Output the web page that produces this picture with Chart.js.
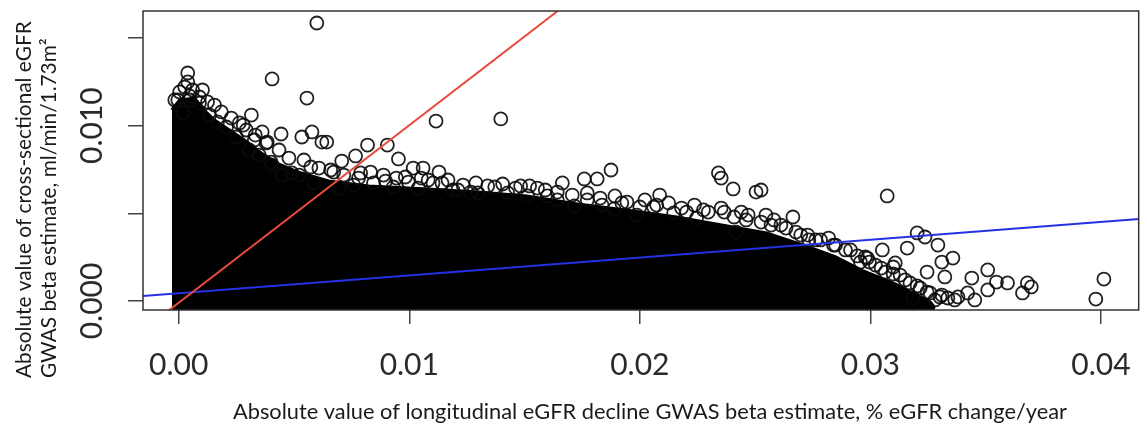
<!DOCTYPE html>
<html>
<head>
<meta charset="utf-8">
<script src="https://cdn.jsdelivr.net/npm/chart.js@4"></script>
<style>
  html, body { margin: 0; padding: 0; background: #fff; }
  #chart { display: block; }
</style>
</head>
<body>
<canvas id="chart" width="1147" height="430"></canvas>
<script>
// axis ranges and ticks
const xRange = [-0.00155, 0.04164];
const yRange = [-0.000513, 0.016534];
const xTickValues = [0, 0.01, 0.02, 0.03, 0.04];
const xTickLabels = ['0.00', '0.01', '0.02', '0.03', '0.04'];
const yTickValues = [0, 0.005, 0.010, 0.015];
const yTickLabels = ['0.000', '', '0.010', ''];

const xTitle = 'Absolute value of longitudinal eGFR decline GWAS beta estimate, % eGFR change/year';
const yTitle = ['Absolute value of cross-sectional eGFR', 'GWAS beta estimate, ml/min/1.73m\u00B2'];

// upper edge of the dense (saturated) cloud of points
const coreX = [-0.0003, 0.00004, 0.00069, 0.0011, 0.00155, 0.0022, 0.00285, 0.00358, 0.00435, 0.0052,
  0.0065, 0.00823, 0.0108, 0.0130, 0.0151, 0.0173, 0.0194, 0.0216, 0.0238, 0.0255,
  0.0272, 0.0285, 0.0297, 0.0311, 0.0319, 0.0326, 0.0328];
const coreY = [0.01089, 0.01146, 0.01157, 0.01089, 0.01032, 0.00975, 0.00918, 0.00844, 0.00781, 0.00735,
  0.00684, 0.00656, 0.00639, 0.00621, 0.00599, 0.00553, 0.00519, 0.00479, 0.00428, 0.00388,
  0.00314, 0.00251, 0.00171, 0.00097, 0.0004, -0.00006, -0.0004];

// individually visible circles (outliers and edge of the cloud)
const ringPoints = [
  [0.00599, 0.01585], [0.00039, 0.0130], [0.00039, 0.01249], [0.00405, 0.01266], [0.00556, 0.01157],
  [0.00004, 0.01192], [0.00103, 0.01203], [0.00026, 0.0122], [0.0006, 0.01203], [0.0009, 0.01129],
  [0.00125, 0.01135], [0.00017, 0.01072], [0.00134, 0.0106], [0.00168, 0.01021], [0.00207, 0.00992],
  [0.00263, 0.01015], [0.00315, 0.0106], [0.00293, 0.00975], [0.0025, 0.00935], [0.00328, 0.00918],
  [0.00306, 0.00861], [0.00349, 0.00832], [0.004, 0.00792], [0.00362, 0.00964], [0.00444, 0.00952],
  [0.00534, 0.00935], [0.00578, 0.00964], [0.00621, 0.00906], [0.00642, 0.00906], [0.00379, 0.00901],
  [0.00573, 0.00764], [0.00491, 0.0073], [0.00405, 0.00775], [0.00448, 0.00718], [0.00522, 0.00718],
  [0.00586, 0.00673], [-0.00004, 0.01146], [0.00047, 0.01169],
  [0.00819, 0.00889], [0.00905, 0.00889], [0.00767, 0.00827], [0.00707, 0.00798], [0.00659, 0.00747],
  [0.00953, 0.0081], [0.00789, 0.0073], [0.00897, 0.00684], [0.01017, 0.00758], [0.0106, 0.00758],
  [0.01129, 0.00735], [0.00983, 0.00707], [0.01082, 0.0069], [0.01142, 0.00673], [0.01211, 0.00633],
  [0.01267, 0.00621], [0.01371, 0.0065], [0.01116, 0.01026], [0.01397, 0.01038], [0.01483, 0.00656],
  [0.01556, 0.00644], [0.01664, 0.00673], [0.01759, 0.00696], [0.01815, 0.00696], [0.01875, 0.00747],
  [0.02086, 0.00604], [0.02, 0.00536], [0.01888, 0.00525], [0.01716, 0.00542], [0.02341, 0.0073],
  [0.02353, 0.00701], [0.02405, 0.00639], [0.02504, 0.00621], [0.02526, 0.00633], [0.0206, 0.00536],
  [0.02147, 0.00502], [0.02276, 0.00519], [0.02366, 0.00507], [0.02664, 0.00479], [0.02569, 0.00433],
  [0.02418, 0.00393], [0.03073, 0.00599], [0.02733, 0.00348], [0.02819, 0.00359], [0.03052, 0.00291],
  [0.02978, 0.00251], [0.03108, 0.00217], [0.03203, 0.00388], [0.03237, 0.00365], [0.03293, 0.00319],
  [0.0316, 0.00302], [0.03358, 0.00245], [0.0331, 0.00222], [0.03509, 0.00177], [0.0344, 0.00131],
  [0.03246, 0.00165], [0.03323, 0.00137], [0.03547, 0.00108], [0.03595, 0.00103], [0.03681, 0.00103],
  [0.03698, 0.0008], [0.03509, 0.00063], [0.0366, 0.00046], [0.04013, 0.00125], [0.03978, 0.00011],
  [0.03099, 0.00194], [0.02987, 0.00245], [0.0331, 0.00034], [0.03422, 0.00046], [0.03336, 0.00017],
  [0.03185, 0.00017], [0.0338, 0.00023],
  [0.00694, 0.00644], [0.00759, 0.00661], [0.00845, 0.00673], [0.00931, 0.0065], [0.01039, 0.00644],
  [0.0119, 0.00633], [0.01297, 0.00616], [0.01427, 0.00616], [0.01513, 0.00599], [0.01599, 0.00599],
  [0.01642, 0.00576], [0.01772, 0.00576], [0.01836, 0.00547], [0.01922, 0.00559], [0.01987, 0.0049],
  [0.02203, 0.00507], [0.02246, 0.00473], [0.0244, 0.00507], [0.02461, 0.00462], [0.02547, 0.0049],
  [0.02612, 0.00433], [0.02698, 0.00376], [0.02763, 0.00348], [0.02849, 0.00319], [0.02914, 0.00291],
  [0.02957, 0.00222], [0.03022, 0.00205], [0.03065, 0.00165], [0.03129, 0.00148], [0.03172, 0.00103],
  [0.03216, 0.00074], [0.03259, 0.00046], [0.0328, 0.00006], [0.03366, 0.00006], [0.03453, 0.00006],
  // dense band just above the saturated cloud
  [-0.00017, 0.01146], [0.00047, 0.01146], [0.0009, 0.01163], [0.00155, 0.01117], [0.00185, 0.01078],
  [0.00228, 0.01043], [0.0028, 0.01003], [0.00332, 0.00946], [0.00384, 0.00906], [0.00435, 0.00861],
  [0.00478, 0.00815], [0.00543, 0.00804], [0.00608, 0.00758], [0.00672, 0.00735], [0.00716, 0.00718],
  [0.0078, 0.00701], [0.00832, 0.00735], [0.00888, 0.00718], [0.00944, 0.00701], [0.00996, 0.00678],
  [0.01052, 0.00701], [0.01103, 0.00673], [0.01168, 0.0069], [0.01233, 0.00661], [0.01289, 0.00673],
  [0.0134, 0.00656], [0.01405, 0.00667], [0.01461, 0.00644], [0.01522, 0.00656], [0.0159, 0.00633],
  [0.01642, 0.00621], [0.01707, 0.00604], [0.01772, 0.00616], [0.01828, 0.00587], [0.01892, 0.00599],
  [0.01944, 0.00564], [0.02022, 0.00576], [0.02073, 0.00547], [0.02125, 0.00559], [0.02181, 0.0053],
  [0.02237, 0.00547], [0.02297, 0.00507], [0.02353, 0.0053], [0.02409, 0.00479], [0.0247, 0.0049],
  [0.02526, 0.0045], [0.02582, 0.00462], [0.02634, 0.00416], [0.02677, 0.00393], [0.02728, 0.00376],
  [0.02784, 0.00348], [0.0284, 0.00319], [0.02892, 0.00291], [0.02944, 0.00257], [0.02996, 0.00222],
  [0.03047, 0.00188], [0.03099, 0.00154], [0.03151, 0.0012], [0.03203, 0.00086], [0.03246, 0.00051],
  [0.03302, 0.00023]
];

// reference lines
const redLineX = [-0.002, 0.02];
const redLineY = [-0.002124, 0.02014];
const blueLineX = [-0.002, 0.043];
const blueLineY = [0.000237, 0.004809];

const toXY = (xs, ys) => xs.map((x, i) => ({ x: x, y: ys[i] }));

function fitFont(ctx, text, width, family) {
    ctx.font = '20px ' + family;
    const size = 20 * width / ctx.measureText(text).width;
    ctx.font = size.toFixed(1) + 'px ' + family;
    return size;
}

// R-style box, rotated y labels and titles
const rDecorations = {
    id: 'rDecorations',
    afterDraw(chart) {
        const ctx = chart.ctx;
        const area = chart.chartArea;
        const xs = chart.scales.x;
        const ys = chart.scales.y;
        ctx.save();
        ctx.strokeStyle = '#333';
        ctx.lineWidth = 1.5;
        ctx.strokeRect(area.left, area.top, area.right - area.left, area.bottom - area.top);

        ctx.fillStyle = '#2a2a2a';
        ctx.font = '30px Lato';
        ctx.textAlign = 'center';
        ctx.textBaseline = 'alphabetic';
        xTickValues.forEach((v, i) => {
            ctx.fillText(xTickLabels[i], xs.getPixelForValue(v), 375);
        });
        yTickValues.forEach((v, i) => {
            if (!yTickLabels[i]) return;
            ctx.save();
            ctx.translate(102, ys.getPixelForValue(v));
            ctx.rotate(-Math.PI / 2);
            ctx.fillText(yTickLabels[i], 0, 0);
            ctx.restore();
        });

        ctx.fillStyle = '#1a1a1a';
        fitFont(ctx, xTitle, 836, 'Lato');
        ctx.fillText(xTitle, 650, 419);

        fitFont(ctx, yTitle[0], 356, 'Lato');
        ctx.textAlign = 'left';
        [31, 56].forEach((bx, i) => {
            ctx.save();
            ctx.translate(bx, 378);
            ctx.rotate(-Math.PI / 2);
            ctx.fillText(yTitle[i], 0, 0);
            ctx.restore();
        });
        ctx.restore();
    }
};

const ctx = document.getElementById('chart').getContext('2d');
new Chart(ctx, {
    type: 'scatter',
    data: {
        datasets: [
            {
                type: 'line',
                data: toXY(redLineX, redLineY),
                borderColor: 'rgb(232, 74, 62)',
                borderWidth: 2,
                pointRadius: 0,
                fill: false,
                order: 0
            },
            {
                type: 'line',
                data: toXY(blueLineX, blueLineY),
                borderColor: 'rgb(35, 50, 228)',
                borderWidth: 2,
                pointRadius: 0,
                fill: false,
                order: 0
            },
            {
                data: ringPoints.map(p => ({ x: p[0], y: p[1] })),
                pointRadius: 6.5,
                pointBorderWidth: 1.8,
                pointBorderColor: 'rgba(10, 10, 10, 0.9)',
                pointBackgroundColor: 'rgba(0, 0, 0, 0)',
                order: 1
            },
            {
                type: 'line',
                data: toXY(coreX, coreY),
                borderColor: '#000',
                backgroundColor: '#000',
                borderWidth: 3,
                pointRadius: 0,
                tension: 0,
                fill: 'start',
                order: 2
            }
        ]
    },
    options: {
        responsive: false,
        devicePixelRatio: 1,
        animation: false,
        layout: { padding: { top: 11, right: 2, left: 0, bottom: 0 } },
        plugins: { legend: { display: false }, tooltip: { enabled: false } },
        scales: {
            x: {
                type: 'linear',
                min: xRange[0],
                max: xRange[1],
                afterBuildTicks: s => { s.ticks = xTickValues.map(v => ({ value: v })); },
                afterFit: s => { s.height = 120; },
                ticks: { display: false },
                border: { display: false },
                grid: { drawOnChartArea: false, drawTicks: true, tickLength: 14, color: '#444', lineWidth: 1.5 }
            },
            y: {
                type: 'linear',
                min: yRange[0],
                max: yRange[1],
                afterBuildTicks: s => { s.ticks = yTickValues.map(v => ({ value: v })); },
                afterFit: s => { s.width = 143; },
                ticks: { display: false },
                border: { display: false },
                grid: { drawOnChartArea: false, drawTicks: true, tickLength: 15, color: '#444', lineWidth: 1.5 }
            }
        }
    },
    plugins: [rDecorations]
});
</script>
</body>
</html>
